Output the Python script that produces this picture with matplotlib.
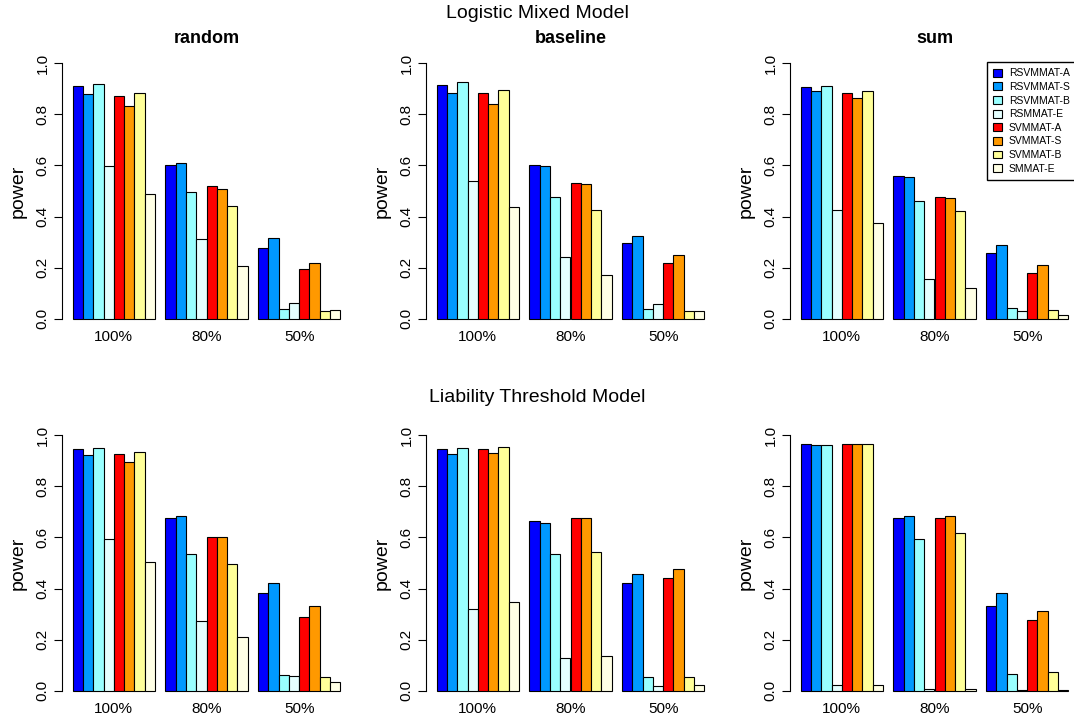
import matplotlib.pyplot as plt
import numpy as np

plt.rcParams['font.family'] = ['Liberation Sans', 'DejaVu Sans']

methods = ["RSVMMAT-A", "RSVMMAT-S", "RSVMMAT-B", "RSMMAT-E",
           "SVMMAT-A", "SVMMAT-S", "SVMMAT-B", "SMMAT-E"]
colors = ["#0000FF", "#0099FF", "#99FFFF", "#E5FFFF",
          "#FF0000", "#FF9900", "#FFFF99", "#FFFFE5"]
groups = ["100%", "80%", "50%"]
panel_titles = ["random", "baseline", "sum"]

# power[method][group] for each scenario
logistic_random = [
    [0.911, 0.603, 0.278], [0.881, 0.609, 0.318], [0.919, 0.495, 0.039], [0.596, 0.311, 0.063],
    [0.872, 0.518, 0.195], [0.834, 0.509, 0.217], [0.884, 0.441, 0.031], [0.488, 0.207, 0.034]]
logistic_baseline = [
    [0.915, 0.601, 0.295], [0.882, 0.599, 0.325], [0.928, 0.475, 0.038], [0.541, 0.243, 0.056],
    [0.882, 0.532, 0.218], [0.841, 0.529, 0.251], [0.895, 0.427, 0.030], [0.437, 0.171, 0.030]]
logistic_sum = [
    [0.906, 0.558, 0.256], [0.892, 0.556, 0.288], [0.910, 0.459, 0.044], [0.424, 0.154, 0.029],
    [0.884, 0.477, 0.179], [0.864, 0.472, 0.209], [0.892, 0.422, 0.035], [0.374, 0.119, 0.016]]
liability_random = [
    [0.945, 0.678, 0.383], [0.921, 0.684, 0.422], [0.951, 0.535, 0.060], [0.594, 0.275, 0.057],
    [0.926, 0.600, 0.289], [0.897, 0.602, 0.331], [0.935, 0.496, 0.052], [0.504, 0.212, 0.034]]
liability_baseline = [
    [0.945, 0.665, 0.423], [0.928, 0.658, 0.456], [0.951, 0.536, 0.053], [0.319, 0.128, 0.017],
    [0.948, 0.676, 0.440], [0.932, 0.678, 0.475], [0.953, 0.542, 0.053], [0.349, 0.138, 0.022]]
liability_sum = [
    [0.965, 0.678, 0.332], [0.962, 0.682, 0.383], [0.961, 0.594, 0.065], [0.021, 0.008, 0.003],
    [0.964, 0.677, 0.276], [0.964, 0.684, 0.314], [0.964, 0.616, 0.073], [0.021, 0.008, 0.003]]

rows = [[logistic_random, logistic_baseline, logistic_sum],
        [liability_random, liability_baseline, liability_sum]]

W, H = 1074, 719
fig = plt.figure(figsize=(W / 100, H / 100), dpi=100)

lefts = [62, 426, 790]
tops = [53, 425]
pw, ph = 289, 276

nb = len(methods)
for r in range(2):
    for c in range(3):
        ax = fig.add_axes([lefts[c] / W, 1 - (tops[r] + ph) / H, pw / W, ph / H])
        data = np.array(rows[r][c])
        for g in range(len(groups)):
            start = 1 + g * (nb + 1)
            x = start + np.arange(nb) + 0.5
            ax.bar(x, data[:, g], width=1, color=colors, edgecolor="black", linewidth=0.8)
        ax.set_xlim(-0.04, 28.04)
        ax.set_ylim(-0.04, 1.04)
        centers = [1 + g * (nb + 1) + nb / 2 for g in range(len(groups))]
        ax.set_xticks(centers)
        ax.set_xticklabels(groups, fontsize=11)
        ax.tick_params(axis="x", length=0, pad=0.5)
        ax.set_yticks([0, 0.2, 0.4, 0.6, 0.8, 1.0])
        ax.set_yticklabels(["0.0", "0.2", "0.4", "0.6", "0.8", "1.0"], fontsize=11,
                           rotation=90, va="center")
        ax.tick_params(axis="y", length=6, width=0.8, pad=3)
        for s in ["top", "right", "bottom"]:
            ax.spines[s].set_visible(False)
        ax.spines["left"].set_bounds(0, 1)
        ax.spines["left"].set_linewidth(0.8)
        ax.set_ylabel("power", fontsize=14, labelpad=6)
        if r == 0:
            ax.set_title(panel_titles[c], fontsize=13, fontweight="bold", pad=7)
        if r == 0 and c == 2:
            handles = [plt.Rectangle((0, 0), 1, 1, facecolor=col, edgecolor="black", linewidth=0.8)
                       for col in colors]
            ax.legend(handles, methods, loc="upper left",
                      bbox_to_anchor=(987 / W, 1 - 62 / H), bbox_transform=fig.transFigure,
                      borderaxespad=0, fontsize=7.5, handlelength=0.8, handleheight=0.8,
                      handletextpad=0.7, labelspacing=0.35, borderpad=0.6,
                      fancybox=False, edgecolor="black", framealpha=1)

fig.text(0.5, 1 - 14 / H, "Logistic Mixed Model", ha="center", va="center", fontsize=14)
fig.text(0.5, 1 - 397 / H, "Liability Threshold Model", ha="center", va="center", fontsize=14)

fig.savefig("out.png", dpi=100)
